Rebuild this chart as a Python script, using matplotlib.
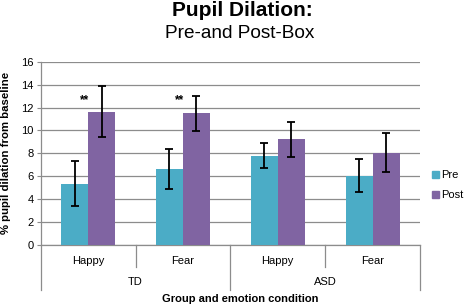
import matplotlib
matplotlib.use("Agg")
import matplotlib.pyplot as plt
import numpy as np
from matplotlib.patches import Patch

plt.rcParams['font.family'] = ['Liberation Sans', 'DejaVu Sans']

emotions = ["Happy", "Fear", "Happy", "Fear"]
groups = ["TD", "ASD"]
pre = [5.35, 6.63, 7.8, 6.05]
pre_err = [1.97, 1.75, 1.12, 1.44]
post = [11.65, 11.48, 9.22, 8.05]
post_err = [2.25, 1.55, 1.54, 1.70]
sig = ["**", "**", "", ""]
yticks = [0, 2, 4, 6, 8, 10, 12, 14, 16]

PRE_C = "#4BACC6"
POST_C = "#8064A2"
GRID_C = "#8c8c8c"

W, H = 471, 306
fig = plt.figure(figsize=(W / 100, H / 100), dpi=100)
ax_l, ax_r, ax_t, ax_b = 40.7, 420, 61.7, 245
ax = fig.add_axes([ax_l / W, (H - ax_b) / H, (ax_r - ax_l) / W, (ax_b - ax_t) / H])

x = np.arange(len(emotions))
bw = 0.284
ax.bar(x - bw / 2, pre, bw, color=PRE_C, zorder=3, label="Pre")
ax.bar(x + bw / 2, post, bw, color=POST_C, zorder=3, label="Post")
ax.errorbar(x - bw / 2, pre, yerr=pre_err, fmt="none", ecolor="black",
            elinewidth=1.3, capsize=3, capthick=1.3, zorder=4)
ax.errorbar(x + bw / 2, post, yerr=post_err, fmt="none", ecolor="black",
            elinewidth=1.3, capsize=3, capthick=1.3, zorder=4)
for xi, s, v in zip(x, sig, post):
    if s:
        ax.text(xi - 0.04, 12.65, s, ha="center", va="center",
                fontsize=8.5, fontweight="bold")

ax.set_xlim(-0.5, len(emotions) - 0.5)
ax.set_ylim(0, 16)
ax.set_yticks(yticks)
ax.set_yticklabels([str(t) for t in yticks], fontsize=8)
ax.yaxis.grid(True, color=GRID_C, lw=0.9, zorder=0)
ax.set_axisbelow(True)
ax.set_xticks([])
for sp in ["top", "right"]:
    ax.spines[sp].set_visible(False)
for sp in ["left", "bottom"]:
    ax.spines[sp].set_color(GRID_C)
    ax.spines[sp].set_linewidth(0.9)
ax.tick_params(axis="y", length=3, color=GRID_C, pad=2)

tr = ax.get_xaxis_transform()
short = -22 / (ax_b - ax_t)
long_ = -45 / (ax_b - ax_t)
for b in [0.5, 2.5]:
    ax.plot([b, b], [0, short], transform=tr, color=GRID_C, lw=0.9, clip_on=False)
for b in [-0.5, 1.5, 3.5]:
    ax.plot([b, b], [0, long_], transform=tr, color=GRID_C, lw=0.9, clip_on=False)
for xi, e in zip(x, emotions):
    ax.text(xi, -16 / (ax_b - ax_t), e, transform=tr, ha="center", va="center", fontsize=8)
for gi, g in enumerate(groups):
    ax.text(gi * 2 + 0.5, -37 / (ax_b - ax_t), g, transform=tr, ha="center", va="center", fontsize=8)

fig.text(240 / W, 1 - 299 / H, "Group and emotion condition", ha="center", va="center",
         fontsize=8, fontweight="bold")
fig.text(6 / W, 1 - 153 / H, "% pupil dilation from baseline", rotation=90,
         ha="center", va="center", fontsize=8.2, fontweight="bold")
fig.text(242 / W, 1 - 10 / H, "Pupil Dilation:", ha="center", va="center",
         fontsize=15, fontweight="bold")
fig.text(240 / W, 1 - 34 / H, "Pre-and Post-Box", ha="center", va="center",
         fontsize=13.7)

handles = [Patch(color=PRE_C, label="Pre"), Patch(color=POST_C, label="Post")]
fig.legend(handles=handles, loc="center left", bbox_to_anchor=(432 / W, 1 - 185 / H),
           frameon=False, fontsize=8, handlelength=0.6, handleheight=0.6,
           handletextpad=0.2, labelspacing=0.9, borderpad=0, borderaxespad=0)

fig.savefig("out.png", dpi=100)
